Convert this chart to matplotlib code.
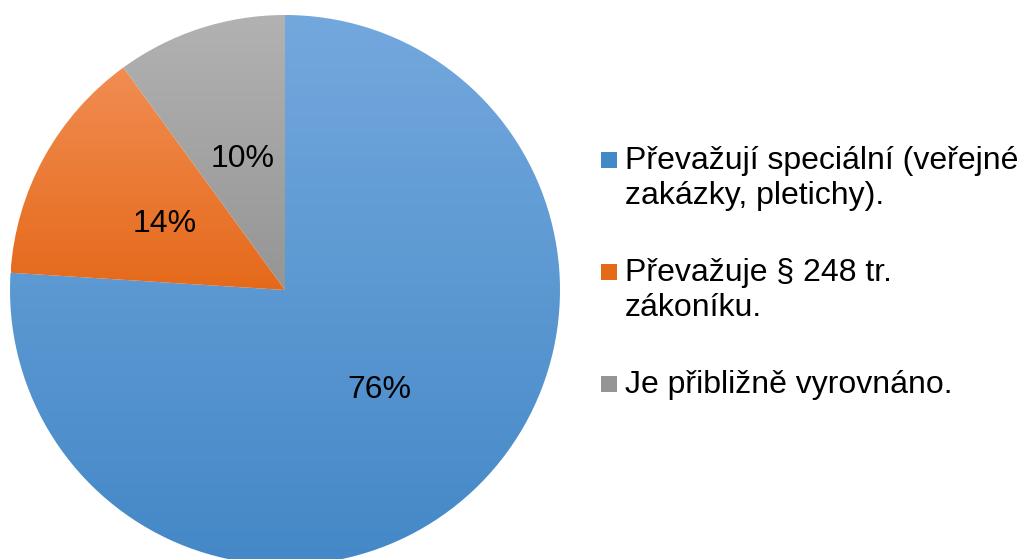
import numpy as np
import matplotlib.pyplot as plt
from matplotlib.colors import LinearSegmentedColormap
from matplotlib.patches import Rectangle

plt.rcParams['font.family'] = ['Liberation Sans', 'DejaVu Sans']

labels = [
    'Převažují speciální (veřejné\nzakázky, pletichy).',
    'Převažuje § 248 tr.\nzákoníku.',
    'Je přibližně vyrovnáno.',
]
values = [76, 14, 10]
# (top colour, bottom colour) of each slice's vertical gradient
colors = [('#73a8dd', '#4488c7'), ('#f18d52', '#e5691a'), ('#b2b2b2', '#959595')]

W, H = 1021, 559
fig = plt.figure(figsize=(W / 100, H / 100), dpi=100)

# pie centre at (285, 290) px from top-left, radius 275 px
cx, cy, r = 285, 290, 275
ax = fig.add_axes([(cx - r) / W, (H - cy - r) / H, 2 * r / W, 2 * r / H])
ax.axis('off')

wedges, texts, autotexts = ax.pie(
    values, startangle=90, counterclock=False, radius=1,
    autopct='%1.0f%%', pctdistance=0.5,
    textprops={'fontsize': 23, 'color': 'black'},
)

for w, (top, bot) in zip(wedges, colors):
    verts = w.get_patch_transform().transform(w.get_path().vertices)
    x0, x1 = verts[:, 0].min(), verts[:, 0].max()
    y0, y1 = verts[:, 1].min(), verts[:, 1].max()
    cmap = LinearSegmentedColormap.from_list('g', [top, bot])
    grad = np.linspace(0, 1, 256).reshape(-1, 1)
    im = ax.imshow(grad, cmap=cmap, extent=(x0, x1, y0, y1), origin='upper',
                   aspect='auto', interpolation='bilinear', zorder=1)
    im.set_clip_path(w)
    w.set_facecolor('none')
    w.set_edgecolor('none')

ax.set_xlim(-1, 1)
ax.set_ylim(-1, 1)

# legend drawn by hand so the marker sits on the first text line
leg_y = [160, 272, 384]
for (top, bot), lab, y in zip(colors, labels, leg_y):
    sq = Rectangle((601 / W, (H - y - 8) / H), 16 / W, 16 / H,
                   transform=fig.transFigure, facecolor=bot, edgecolor='none')
    fig.patches.append(sq)
    fig.text(625 / W, (H - y + 14) / H, lab, fontsize=23, va='top', ha='left',
             linespacing=1.2)

fig.savefig('out.png', dpi=100)
